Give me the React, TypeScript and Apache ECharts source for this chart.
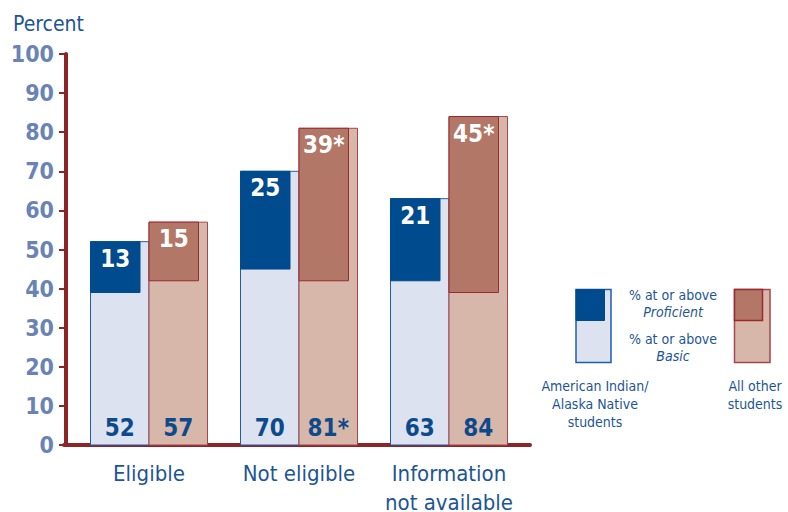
import React, { useEffect, useRef } from "react";
import * as echarts from "echarts";

const categories = ["Eligible", "Not eligible", "Information\nnot available"];
const aianBasic = [52, 70, 63];
const aianProficient = [13, 25, 21];
const otherBasic = [57, 81, 84];
const otherProficient = [15, 39, 45];
const aianBasicLabels = ["52", "70", "63"];
const aianProficientLabels = ["13", "25", "21"];
const otherBasicLabels = ["57", "81*", "84"];
const otherProficientLabels = ["15", "39*", "45*"];

const FONT = "'Liberation Sans Narrow', 'DejaVu Sans Condensed', Roboto, sans-serif";
const AXIS = "#8c2428";
const BLUE_TEXT = "#1c5596";
const Y_LABEL = "#6a83b6";

const AI_DARK = "#004b8d";
const AI_LIGHT = "#dce2ef";
const AI_STROKE = "#1f5fa6";
const OT_DARK = "#b27766";
const OT_LIGHT = "#d8b7ab";
const OT_STROKE = "#a8444b";
const OT_DARK_STROKE = "#9a2a30";

function makeRender(side: "left" | "right", basicLabels: string[], profLabels: string[], c: any) {
  return (params: any, api: any) => {
    const idx = api.value(0);
    const basic = api.value(1);
    const prof = api.value(2);
    const base = api.coord([idx, 0]);
    const top = api.coord([idx, basic]);
    const pb = api.coord([idx, basic - prof]);
    const band = api.size([1, 0])[0];
    const barW = band * 0.39;
    const profW = band * 0.33;
    const x0 = side === "left" ? base[0] - barW : base[0];
    return {
      type: "group",
      children: [
        {
          type: "rect",
          shape: { x: x0, y: top[1], width: barW, height: base[1] - top[1] },
          style: { fill: c.light, stroke: c.stroke, lineWidth: 1 },
        },
        {
          type: "rect",
          shape: { x: x0, y: top[1], width: profW, height: pb[1] - top[1] },
          style: { fill: c.dark, stroke: c.darkStroke, lineWidth: 1 },
        },
        {
          type: "text",
          style: {
            text: basicLabels[idx],
            x: x0 + barW / 2,
            y: base[1] - 17,
            align: "center",
            verticalAlign: "middle",
            fill: "#0c4a8c",
            fontSize: 24,
            fontWeight: "bold",
            fontFamily: FONT,
          },
        },
        {
          type: "text",
          style: {
            text: profLabels[idx],
            x: x0 + profW / 2,
            y: top[1] + 17,
            align: "center",
            verticalAlign: "middle",
            fill: "#ffffff",
            fontSize: 24,
            fontWeight: "bold",
            fontFamily: FONT,
          },
        },
      ],
    };
  };
}

export default function App() {
  const ref = useRef<HTMLDivElement>(null);
  useEffect(() => {
    if (!ref.current) return;
    const chart = echarts.init(ref.current, null, { renderer: "svg" });
    const legendText = (text: string, x: number, y: number, italic = false) => ({
      type: "text",
      x,
      y,
      style: {
        text,
        align: "center",
        verticalAlign: "middle",
        fill: BLUE_TEXT,
        fontSize: 14,
        fontStyle: italic ? "italic" : "normal",
        fontFamily: FONT,
      },
    });
    chart.setOption({
      animation: false,
      grid: [
        { left: 74, right: 264, top: 54, bottom: 67, outerBoundsMode: "none", containLabel: false },
        { left: 64, right: 258, top: 54, bottom: 67, outerBoundsMode: "none", containLabel: false },
      ],
      xAxis: [
        {
          type: "category",
          gridIndex: 0,
          data: categories,
          axisLine: { show: false },
          axisTick: { show: false },
          axisLabel: {
            interval: 0,
            color: BLUE_TEXT,
            fontSize: 22,
            fontFamily: FONT,
            lineHeight: 29,
            margin: 14,
          },
        },
        {
          type: "value",
          gridIndex: 1,
          min: 0,
          max: 1,
          axisLine: { show: true, lineStyle: { color: AXIS, width: 4 } },
          axisTick: { show: false },
          axisLabel: { show: false },
          splitLine: { show: false },
        },
      ],
      yAxis: [
        {
          type: "value",
          gridIndex: 0,
          min: 0,
          max: 100,
          interval: 10,
          offset: 8,
          axisLine: { show: true, lineStyle: { color: AXIS, width: 4 } },
          axisTick: { show: true, length: 7, lineStyle: { color: AXIS, width: 2 } },
          axisLabel: {
            color: Y_LABEL,
            fontSize: 23,
            fontWeight: "bold",
            fontFamily: FONT,
            margin: 12,
          },
          splitLine: { show: false },
        },
        { type: "value", gridIndex: 1, min: 0, max: 100, show: false },
      ],
      series: [
        {
          type: "custom",
          xAxisIndex: 0,
          yAxisIndex: 0,
          encode: { x: 0, y: 1 },
          data: aianBasic.map((v, i) => [i, v, aianProficient[i]]),
          renderItem: makeRender("left", aianBasicLabels, aianProficientLabels, {
            light: AI_LIGHT,
            stroke: AI_STROKE,
            dark: AI_DARK,
            darkStroke: AI_DARK,
          }),
        },
        {
          type: "custom",
          xAxisIndex: 0,
          yAxisIndex: 0,
          encode: { x: 0, y: 1 },
          data: otherBasic.map((v, i) => [i, v, otherProficient[i]]),
          renderItem: makeRender("right", otherBasicLabels, otherProficientLabels, {
            light: OT_LIGHT,
            stroke: OT_STROKE,
            dark: OT_DARK,
            darkStroke: OT_DARK_STROKE,
          }),
        },
      ],
      graphic: [
        {
          type: "text",
          left: 13,
          top: 13,
          style: { text: "Percent", fill: BLUE_TEXT, fontSize: 21, fontFamily: FONT },
        },
        {
          type: "rect",
          shape: { x: 576, y: 289.5, width: 35, height: 73 },
          style: { fill: AI_LIGHT, stroke: AI_STROKE, lineWidth: 1.5 },
        },
        {
          type: "rect",
          shape: { x: 576, y: 289.5, width: 28.5, height: 31 },
          style: { fill: AI_DARK, stroke: AI_DARK, lineWidth: 1 },
        },
        {
          type: "rect",
          shape: { x: 734.5, y: 289.5, width: 35.5, height: 73 },
          style: { fill: OT_LIGHT, stroke: OT_STROKE, lineWidth: 1.5 },
        },
        {
          type: "rect",
          shape: { x: 734.5, y: 289.5, width: 28, height: 31 },
          style: { fill: OT_DARK, stroke: OT_DARK_STROKE, lineWidth: 1.5 },
        },
        legendText("% at or above", 673, 295),
        legendText("Proficient", 673, 312, true),
        legendText("% at or above", 673, 339),
        legendText("Basic", 673, 356, true),
        legendText("American Indian/", 595, 386),
        legendText("Alaska Native", 595, 404),
        legendText("students", 595, 422),
        legendText("All other", 755, 386),
        legendText("students", 755, 404),
      ],
    });
    return () => chart.dispose();
  }, []);
  return (
    <div
      ref={ref}
      style={{ position: "absolute", left: 0, top: 0, width: 788, height: 512 }}
    />
  );
}
